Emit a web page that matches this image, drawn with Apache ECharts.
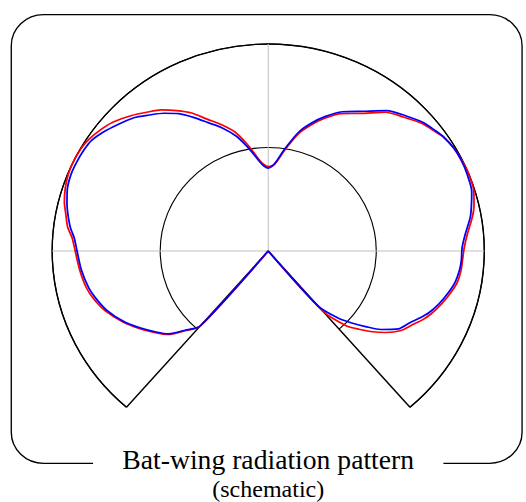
<!DOCTYPE html>
<html>
<head>
<meta charset="utf-8">
<title>Bat-wing radiation pattern</title>
<script src="https://cdn.jsdelivr.net/npm/echarts@6.0.0/dist/echarts.min.js"></script>
<style>
  html, body { margin: 0; padding: 0; background: #fff; overflow: hidden; }
  /* polar grid is a little wider than tall in the original, so stretch x */
  #chart { width: 504px; height: 502px; transform: scaleX(1.0437); transform-origin: 0 0; }
</style>
</head>
<body>
<div id="chart"></div>
<script>
// angle in degrees from the top, clockwise; sector is open at the bottom
const angleMin = -139;
const angleMax = 139;

const angles = [
  -139, -135, -131, -127, -122, -117, -111, -106, -102, -96,
  -90, -86, -83, -79, -76, -72, -68, -64, -60, -57,
  -53, -49, -44, -40, -36, -32, -28, -24, -20, -15,
  -11, -8, -5, -3, 0, 3, 5, 9, 14, 18,
  22, 27, 33, 39, 44, 49, 53, 56, 60, 64,
  68, 73, 77, 80, 85, 89, 93, 96, 100, 104,
  108, 112, 115, 118, 122, 126, 129, 132, 135, 139
];

const redR = [
  0.965, 1.09, 1.23, 1.31, 1.41, 1.51, 1.615, 1.68, 1.72, 1.755,
  1.787, 1.82, 1.87, 1.91, 1.945, 1.975, 1.995, 2.0, 1.995, 1.98,
  1.945, 1.9, 1.82, 1.75, 1.685, 1.6, 1.51, 1.395, 1.305, 1.19,
  1.06, 0.96, 0.875, 0.84, 0.815, 0.83, 0.86, 0.99, 1.17, 1.28,
  1.38, 1.49, 1.585, 1.725, 1.8, 1.88, 1.925, 1.96, 1.985, 1.995,
  2.0, 1.99, 1.955, 1.92, 1.85, 1.815, 1.8, 1.795, 1.775, 1.73,
  1.68, 1.625, 1.575, 1.515, 1.45, 1.34, 1.24, 1.13, 1.02, 0.77
];

const blueR = [
  0.96, 1.08, 1.22, 1.3, 1.4, 1.5, 1.6, 1.66, 1.7, 1.74,
  1.77, 1.8, 1.845, 1.89, 1.92, 1.955, 1.97, 1.97, 1.965, 1.955,
  1.91, 1.855, 1.79, 1.715, 1.645, 1.565, 1.46, 1.355, 1.27, 1.15,
  1.03, 0.94, 0.86, 0.825, 0.8, 0.825, 0.87, 1.005, 1.19, 1.3,
  1.4, 1.51, 1.61, 1.745, 1.82, 1.895, 1.935, 1.965, 1.985, 1.99,
  1.985, 1.97, 1.93, 1.9, 1.83, 1.795, 1.79, 1.78, 1.755, 1.71,
  1.66, 1.6, 1.54, 1.48, 1.42, 1.29, 1.16, 1.04, 0.92, 0.71
];

// reference lines: [radius, angle]
const crossH = [[2, -90], [2, 90]];
const crossV = [[0, 0], [2, 0]];
const wedge = [[2, angleMin], [0, 0], [2, angleMax]];

const titleText = 'Bat-wing radiation pattern';
const subText = '(schematic)';

// each lobe curve is closed back to the origin along the sector edges
const toPolar = rs => [[0, angles[0]]]
  .concat(angles.map((a, i) => [rs[i], a]))
  .concat([[0, angles[angles.length - 1]]]);

// series live on a second, full-circle polar with the same angle mapping,
// a bit bigger so nothing on the sector edge gets clipped in half
const R = 207;
const lineOn = (data, color, width, z, smooth) => ({
  type: 'line',
  coordinateSystem: 'polar',
  polarIndex: 1,
  data,
  symbol: 'none',
  silent: true,
  smooth: smooth || false,
  lineStyle: { color, width },
  z
});

const chart = echarts.init(document.getElementById('chart'), null, { renderer: 'svg' });

chart.setOption({
  animation: false,
  backgroundColor: '#fff',
  title: {
    text: titleText,
    subtext: subText,
    left: 229,
    top: 443,
    textAlign: 'center',
    textVerticalAlign: 'top',
    padding: [4, 28, 0, 28],
    itemGap: 4,
    backgroundColor: '#fff',
    textStyle: { fontFamily: 'Liberation Serif', fontSize: 26.5, fontWeight: 'normal', color: '#000' },
    subtextStyle: { fontFamily: 'Liberation Serif', fontSize: 23, color: '#000' }
  },
  graphic: [
    {
      type: 'rect',
      z: -1,
      shape: { x: 10.8, y: 14.7, width: 489.4, height: 448.6, r: 31 },
      style: { fill: 'none', stroke: '#000', lineWidth: 1.3 }
    }
  ],
  polar: [
    { center: [257, 251], radius: R },
    { center: [257, 251], radius: R * 1.1 }
  ],
  angleAxis: [
    {
      polarIndex: 0,
      type: 'value',
      min: angleMin,
      max: angleMax,
      startAngle: 229,
      endAngle: -49,
      clockwise: true,
      axisLine: { show: true, lineStyle: { color: '#000', width: 1.3 } },
      axisTick: { show: false },
      axisLabel: { show: false },
      splitLine: { show: false }
    },
    {
      polarIndex: 1,
      type: 'value',
      min: -180,
      max: 180,
      startAngle: 270,
      clockwise: true,
      show: false
    }
  ],
  radiusAxis: [
    {
      polarIndex: 0,
      type: 'value',
      min: 0,
      max: 2,
      interval: 1,
      axisLine: { show: false },
      axisTick: { show: false },
      axisLabel: { show: false },
      splitLine: { show: true, lineStyle: { color: '#000', width: 1.1 } }
    },
    {
      polarIndex: 1,
      type: 'value',
      min: 0,
      max: 2.2,
      show: false
    }
  ],
  series: [
    lineOn(crossH, '#c0c0c0', 1, 1),
    lineOn(crossV, '#c0c0c0', 1, 1),
    lineOn(wedge, '#000', 1.4, 1),
    Object.assign(lineOn(toPolar(redR), '#ff0000', 1.7, 2, 0.25), { name: 'red' }),
    Object.assign(lineOn(toPolar(blueR), '#0000ff', 1.7, 3, 0.25), { name: 'blue' })
  ]
});
</script>
</body>
</html>
